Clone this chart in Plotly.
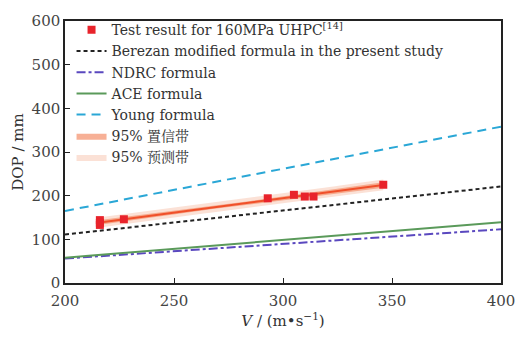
import numpy as np
import plotly.graph_objects as go

# Test data
test_v = [216, 216, 216, 227, 293, 305, 310, 314, 346]
test_dop = [144, 138, 133, 146, 194, 202, 198, 198, 225]

# Formula lines (endpoints)
line_v = [200, 400]
berezan = [111, 221]
ndrc = [56, 123]
ace = [58, 139]
young = [165, 358]

t_crit = 2.365  # t(0.975, df=7)

x = np.array(test_v, float)
y = np.array(test_dop, float)
n = len(x)
b, a = np.polyfit(x, y, 1)
res = y - (a + b * x)
s = np.sqrt(np.sum(res ** 2) / (n - 2))
xm = x.mean()
sxx = np.sum((x - xm) ** 2)
xf = np.linspace(x.min(), x.max(), 60)
yf = a + b * xf
ci = t_crit * s * np.sqrt(1 / n + (xf - xm) ** 2 / sxx)
pi = t_crit * s * np.sqrt(1 + 1 / n + (xf - xm) ** 2 / sxx)

serif = "DejaVu Serif, Liberation Serif, Noto Serif CJK SC, Noto Sans CJK SC, serif"

fig = go.Figure()
fig.add_trace(go.Scatter(x=list(xf) + list(xf[::-1]), y=list(yf + pi) + list((yf - pi)[::-1]),
                         fill="toself", fillcolor="rgba(248,200,180,0.55)", line=dict(width=0),
                         name="95% 预测带", legendrank=7, hoverinfo="skip"))
fig.add_trace(go.Scatter(x=list(xf) + list(xf[::-1]), y=list(yf + ci) + list((yf - ci)[::-1]),
                         fill="toself", fillcolor="rgba(244,150,115,0.75)", line=dict(width=0),
                         name="95% 置信带", legendrank=6, hoverinfo="skip"))
fig.add_trace(go.Scatter(x=xf, y=yf, mode="lines", line=dict(color="#f0502a", width=2),
                         showlegend=False))
fig.add_trace(go.Scatter(x=test_v, y=test_dop, mode="markers",
                         marker=dict(symbol="square", size=8, color="#e8232b"),
                         name="Test result for 160MPa UHPC<sup>[14]</sup>", legendrank=1))
fig.add_trace(go.Scatter(x=line_v, y=berezan, mode="lines",
                         line=dict(color="#222222", width=2, dash="4px,3px"),
                         name="Berezan modified formula in the present study", legendrank=2))
fig.add_trace(go.Scatter(x=line_v, y=ndrc, mode="lines",
                         line=dict(color="#5a48bf", width=2, dash="dashdot"),
                         name="NDRC formula", legendrank=3))
fig.add_trace(go.Scatter(x=line_v, y=ace, mode="lines",
                         line=dict(color="#5a9a5a", width=2),
                         name="ACE formula", legendrank=4))
fig.add_trace(go.Scatter(x=line_v, y=young, mode="lines",
                         line=dict(color="#2aa7d6", width=2, dash="9px,6px"),
                         name="Young formula", legendrank=5))

axis_common = dict(showline=True, linecolor="#222", linewidth=1.5, mirror=True,
                   ticks="inside", ticklen=5, tickcolor="#222", showgrid=False, zeroline=False,
                   tickfont=dict(family=serif, size=15, color="#444"))
fig.update_xaxes(range=[200, 400], tickvals=[200, 250, 300, 350, 400], ticklabelstandoff=3,
                 title=dict(text="<i>V</i> / (m•s<sup>−1</sup>)", font=dict(family=serif, size=15, color="#333"),
                            standoff=3), **axis_common)
fig.update_yaxes(range=[0, 600], tickvals=[0, 100, 200, 300, 400, 500, 600],
                 title=dict(text="DOP / mm", font=dict(family=serif, size=15, color="#333"), standoff=4),
                 **axis_common)
fig.update_layout(
    width=527, height=337, margin=dict(l=65, r=20, t=14, b=54),
    plot_bgcolor="white", paper_bgcolor="white",
    legend=dict(x=0.015, y=1.026, xanchor="left", yanchor="top", bgcolor="rgba(0,0,0,0)",
                font=dict(family=serif, size=14, color="#333"), tracegroupgap=0,
                itemwidth=30),
    font=dict(family=serif),
)
fig.write_html("out.html")
